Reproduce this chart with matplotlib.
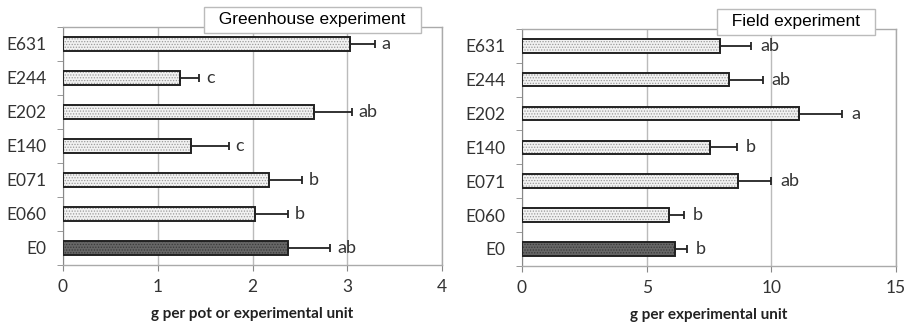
import numpy as np
import matplotlib
matplotlib.use("Agg")
import matplotlib.pyplot as plt

# =========================================================
# DATA
# =========================================================

strains = ["E0", "E060", "E071", "E140", "E202", "E244", "E631"]

gh_mean = [2.37, 2.03, 2.17, 1.35, 2.65, 1.23, 3.03]
gh_err = [0.45, 0.34, 0.35, 0.40, 0.40, 0.21, 0.26]
gh_letters = ["ab", "b", "b", "c", "ab", "c", "a"]

fd_mean = [6.14, 5.89, 8.66, 7.56, 11.13, 8.29, 7.96]
fd_err = [0.48, 0.61, 1.34, 1.06, 1.71, 1.38, 1.24]
fd_letters = ["b", "b", "ab", "b", "a", "ab", "ab"]

plt.rcParams['font.family'] = ['Lato', 'DejaVu Sans']
plt.rcParams['hatch.linewidth'] = 0.6

fig = plt.figure(figsize=(9.06, 3.25), dpi=100)

# =========================================================
# PANEL HELPER
# =========================================================

def panel(rect, means, errs, letters, xmax, step, xlabel, title, box_x, letter_pad):
    ax = fig.add_axes(rect)
    y = np.arange(len(strains))
    light = ["#3a3a3a" if s == "E0" else "#9a9a9a" for s in strains]
    face = ["#666666" if s == "E0" else "#f2f2f2" for s in strains]

    # dotted fill
    ax.barh(y, means, height=0.4, color=face, edgecolor=light,
            hatch="......", linewidth=0, zorder=2)
    # outline
    ax.barh(y, means, height=0.4, fill=False, edgecolor="#222222",
            linewidth=1.4, zorder=3)
    ax.errorbar(means, y, xerr=[np.zeros(len(errs)), errs], fmt="none",
                ecolor="#222222", elinewidth=1.3, capsize=3, capthick=1.3,
                zorder=4)

    for yi, m, e, lab in zip(y, means, errs, letters):
        ax.text(m + e + letter_pad, yi, lab, va="center", ha="left",
                fontsize=13, color="#333333")

    ax.set_xlim(0, xmax)
    ax.set_ylim(-0.5, len(strains) - 0.5)
    ax.set_xticks(np.arange(0, xmax + step / 2, step))
    ax.set_yticks(y)
    ax.set_yticklabels(strains)
    ax.set_yticks(np.arange(-0.5, len(strains)), minor=True)
    ax.tick_params(axis="y", which="major", length=0, pad=12,
                   labelsize=12.5, labelcolor="#333333")
    ax.tick_params(axis="y", which="minor", length=4, color="#888888")
    ax.tick_params(axis="x", length=4, color="#888888", labelsize=12.5,
                   labelcolor="#333333", pad=6)

    ax.grid(axis="x", color="#bbbbbb", linewidth=1.0, zorder=0)
    ax.set_axisbelow(True)

    for side in ["top", "right", "bottom"]:
        ax.spines[side].set_color("#aaaaaa")
        ax.spines[side].set_linewidth(1.0)
    ax.spines["left"].set_color("#888888")

    ax.set_xlabel(xlabel, fontsize=11, fontweight="bold", color="#222222",
                  labelpad=9)

    ax.text(box_x, 1.03, title, transform=ax.transAxes, ha="left",
            va="center", fontsize=12.5, color="black",
            family=["Liberation Sans", "DejaVu Sans"],
            bbox=dict(boxstyle="square,pad=0.3", facecolor="white",
                      edgecolor="#bbbbbb", linewidth=1.0), zorder=10)
    return ax


panel([0.0695, 0.185, 0.4185, 0.732], gh_mean, gh_err, gh_letters, 4, 1,
      "g per pot or experimental unit", "  Greenhouse experiment  ",
      0.386, 0.07)

panel([0.576, 0.182, 0.413, 0.729], fd_mean, fd_err, fd_letters, 15, 5,
      "g per experimental unit", "  Field experiment  ",
      0.535, 0.35)

fig.savefig("out.png", dpi=100)
